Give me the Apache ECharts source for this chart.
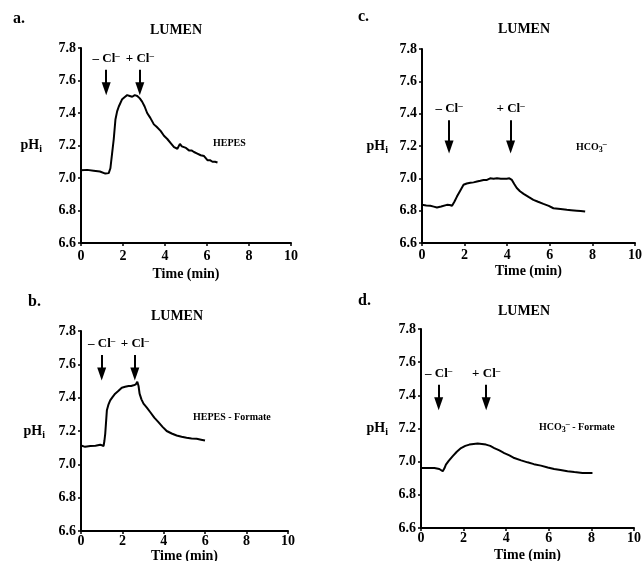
<!DOCTYPE html>
<html>
<head>
    <meta charset="utf-8" />
    <title>LUMEN pHi</title>
    <script type="text/javascript" src="https://cdn.jsdelivr.net/npm/echarts@6/dist/echarts.min.js"></script>
    <style>
        html, body { margin: 0; padding: 0; background: #fff; }
    </style>
</head>
<body>
    <div id="main" style="width: 642px;height: 561px;"></div>
    <script type="text/javascript">
        // a. HEPES
        var timeA = [0, 0.3, 0.6, 0.9, 1.16, 1.32, 1.4, 1.48, 1.56, 1.64, 1.72, 1.8, 1.96, 2.1, 2.2, 2.32, 2.44, 2.56, 2.68, 2.8, 2.91, 3.03, 3.15, 3.3, 3.47, 3.6, 3.79, 3.95, 4.11, 4.27, 4.43, 4.59, 4.65, 4.71, 4.8, 4.87, 5.0, 5.14, 5.26, 5.38, 5.54, 5.7, 5.86, 6.02, 6.14, 6.26, 6.38, 6.5];
        var phA = [7.047, 7.05, 7.045, 7.04, 7.027, 7.03, 7.06, 7.15, 7.24, 7.36, 7.41, 7.44, 7.485, 7.5, 7.51, 7.505, 7.5, 7.51, 7.505, 7.49, 7.47, 7.44, 7.4, 7.37, 7.33, 7.315, 7.29, 7.26, 7.24, 7.215, 7.19, 7.18, 7.185, 7.21, 7.195, 7.19, 7.185, 7.17, 7.17, 7.16, 7.15, 7.14, 7.135, 7.11, 7.11, 7.1, 7.1, 7.095];
        // b. HEPES - Formate
        var timeB = [0, 0.2, 0.45, 0.7, 0.93, 1.09, 1.13, 1.17, 1.25, 1.33, 1.41, 1.53, 1.65, 1.8, 1.97, 2.13, 2.3, 2.42, 2.54, 2.65, 2.72, 2.78, 2.83, 2.92, 3.02, 3.18, 3.34, 3.54, 3.74, 3.94, 4.14, 4.38, 4.62, 4.86, 5.1, 5.34, 5.59, 5.8, 5.99];
        var phB = [7.113, 7.105, 7.11, 7.112, 7.118, 7.11, 7.14, 7.183, 7.324, 7.36, 7.384, 7.405, 7.424, 7.44, 7.46, 7.465, 7.47, 7.47, 7.474, 7.48, 7.495, 7.47, 7.424, 7.39, 7.364, 7.34, 7.314, 7.28, 7.253, 7.225, 7.2, 7.185, 7.173, 7.165, 7.159, 7.155, 7.153, 7.148, 7.143];
        // c. HCO3-
        var timeC = [0, 0.2, 0.39, 0.55, 0.7, 0.9, 1.17, 1.3, 1.41, 1.52, 1.64, 1.8, 1.95, 2.1, 2.27, 2.42, 2.58, 2.74, 2.89, 3.05, 3.2, 3.36, 3.52, 3.7, 3.85, 3.98, 4.1, 4.22, 4.33, 4.45, 4.6, 4.77, 5.0, 5.23, 5.45, 5.7, 5.95, 6.17, 6.5, 6.8, 7.0, 7.27, 7.45, 7.66];
        var phC = [6.836, 6.832, 6.83, 6.825, 6.82, 6.826, 6.836, 6.835, 6.83, 6.855, 6.887, 6.925, 6.96, 6.968, 6.973, 6.975, 6.98, 6.985, 6.99, 6.99, 7.0, 6.998, 7.0, 6.997, 6.998, 6.998, 7.0, 6.99, 6.965, 6.94, 6.92, 6.904, 6.885, 6.867, 6.855, 6.842, 6.83, 6.815, 6.81, 6.805, 6.803, 6.8, 6.798, 6.795];
        // d. HCO3- - Formate
        var timeD = [0, 0.3, 0.63, 0.86, 0.95, 1.02, 1.1, 1.17, 1.3, 1.48, 1.68, 1.88, 2.08, 2.27, 2.47, 2.66, 2.86, 3.05, 3.25, 3.44, 3.68, 3.91, 4.15, 4.38, 4.7, 5.0, 5.3, 5.63, 5.95, 6.25, 6.55, 6.88, 7.2, 7.58, 7.8, 8.05];
        var phD = [6.962, 6.962, 6.962, 6.956, 6.948, 6.942, 6.96, 6.982, 7.005, 7.032, 7.06, 7.082, 7.095, 7.103, 7.107, 7.109, 7.107, 7.103, 7.095, 7.082, 7.068, 7.052, 7.038, 7.022, 7.008, 6.996, 6.985, 6.976, 6.965, 6.956, 6.95, 6.942, 6.937, 6.932, 6.932, 6.932];

        // times of Cl- removal / re-addition (min)
        var clA = [1.2, 2.8];
        var clB = [1.0, 2.6];
        var clC = [1.27, 4.16];
        var clD = [0.83, 3.06];

        var xTicks = [0, 2, 4, 6, 8, 10];
        var yTicks = [6.6, 6.8, 7.0, 7.2, 7.4, 7.6, 7.8];

        var serif = '"Liberation Serif", "DejaVu Serif", serif';

        function pairs(t, v) {
            return t.map(function (x, i) { return [x, v[i]]; });
        }

        // panel layout: grid box, arrow span (top, end) in pH, name gaps
        var panels = [
            { t: timeA, v: phA, cl: clA, grid: { left: 81, top: 48, width: 210, height: 195 }, arrow: [7.666, 7.55], lblMargin: 6, xGap: 24, yGap: 39 },
            { t: timeC, v: phC, cl: clC, grid: { left: 422, top: 49, width: 213, height: 194 }, arrow: [7.36, 7.194], lblMargin: 5, xGap: 21, yGap: 34 },
            { t: timeB, v: phB, cl: clB, grid: { left: 81, top: 331, width: 207, height: 200 }, arrow: [7.656, 7.542], lblMargin: 3, xGap: 17, yGap: 36 },
            { t: timeD, v: phD, cl: clD, grid: { left: 421, top: 329, width: 213, height: 199 }, arrow: [7.464, 7.349], lblMargin: 3, xGap: 20, yGap: 33 }
        ];

        var grids = [], xAxes = [], yAxes = [], series = [];
        panels.forEach(function (p, i) {
            grids.push(Object.assign({ containLabel: false, outerBoundsMode: 'none' }, p.grid));
            xAxes.push({
                gridIndex: i, type: 'value', min: xTicks[0], max: xTicks[xTicks.length - 1], interval: 2,
                axisLine: { show: true, onZero: false, lineStyle: { color: '#000', width: 2 } },
                axisTick: { show: true, length: 3, lineStyle: { color: '#000', width: 1.5 } },
                axisLabel: { color: '#000', fontFamily: serif, fontWeight: 'bold', fontSize: 14, margin: p.lblMargin },
                splitLine: { show: false },
                name: 'Time (min)', nameLocation: 'middle', nameGap: p.xGap,
                nameTextStyle: { color: '#000', fontFamily: serif, fontWeight: 'bold', fontSize: 14 }
            });
            yAxes.push({
                gridIndex: i, type: 'value', min: yTicks[0], max: yTicks[yTicks.length - 1], interval: 0.2,
                axisLine: { show: true, onZero: false, lineStyle: { color: '#000', width: 2 } },
                axisTick: { show: true, length: 3, lineStyle: { color: '#000', width: 1.5 } },
                axisLabel: {
                    color: '#000', fontFamily: serif, fontWeight: 'bold', fontSize: 14, margin: 5,
                    formatter: function (v) { return v.toFixed(1); }
                },
                splitLine: { show: false },
                name: 'pH{s|i}', nameLocation: 'middle', nameRotate: 0, nameGap: p.yGap,
                nameTextStyle: {
                    color: '#000', fontFamily: serif, fontWeight: 'bold', fontSize: 14, lineHeight: 18,
                    rich: { s: { fontFamily: serif, fontWeight: 'bold', fontSize: 10, lineHeight: 10, verticalAlign: 'bottom', color: '#000' } }
                }
            });
            series.push({
                type: 'line', xAxisIndex: i, yAxisIndex: i,
                data: pairs(p.t, p.v),
                showSymbol: false, smooth: false,
                lineStyle: { color: '#000', width: 2 },
                markLine: {
                    silent: true, animation: false,
                    symbol: ['none', 'triangle'], symbolSize: [9, 13],
                    lineStyle: { color: '#000', width: 2, type: 'solid' },
                    label: {
                        show: true, position: 'start', distance: 3,
                        formatter: '{n|{b}}{s|–}',
                        rich: {
                            n: { fontFamily: serif, fontWeight: 'bold', fontSize: 13, lineHeight: 16, color: '#000' },
                            s: { fontFamily: serif, fontWeight: 'bold', fontSize: 9, lineHeight: 9, verticalAlign: 'top', color: '#000' }
                        }
                    },
                    data: [
                        [{ name: '– Cl', coord: [p.cl[0], p.arrow[0]] }, { coord: [p.cl[0], p.arrow[1]] }],
                        [{ name: '+ Cl', coord: [p.cl[1], p.arrow[0]] }, { coord: [p.cl[1], p.arrow[1]] }]
                    ]
                }
            });
        });

        function txt(x, y, text, size, align, rich) {
            return {
                type: 'text', x: x, y: y, silent: true,
                style: {
                    text: text, fill: '#000', fontFamily: serif, fontWeight: 'bold', fontSize: size,
                    align: align || 'left', verticalAlign: 'middle', rich: rich
                }
            };
        }
        var hco = {
            n: { fontFamily: serif, fontWeight: 'bold', fontSize: 10, lineHeight: 14, fill: '#000' },
            sub: { fontFamily: serif, fontWeight: 'bold', fontSize: 8, lineHeight: 8, verticalAlign: 'bottom', fill: '#000' },
            sup: { fontFamily: serif, fontWeight: 'bold', fontSize: 8, lineHeight: 8, verticalAlign: 'top', fill: '#000' }
        };

        var graphics = [
            txt(13, 19, 'a.', 16), txt(358, 17, 'c.', 16), txt(28, 302, 'b.', 16), txt(358, 301, 'd.', 16),
            txt(176, 30, 'LUMEN', 14, 'center'), txt(524, 29, 'LUMEN', 14, 'center'),
            txt(177, 316, 'LUMEN', 14, 'center'), txt(524, 311, 'LUMEN', 14, 'center'),
            txt(213, 143, 'HEPES', 10),
            txt(193, 417, 'HEPES - Formate', 10),
            txt(576, 147, '{n|HCO}{sub|3}{sup|–}', 10, 'left', hco),
            txt(539, 427, '{n|HCO}{sub|3}{sup|–}{n| - Formate}', 10, 'left', hco)
        ];

        var myChart = echarts.init(document.getElementById('main'));
        myChart.setOption({
            animation: false,
            backgroundColor: '#fff',
            grid: grids,
            xAxis: xAxes,
            yAxis: yAxes,
            series: series,
            graphic: graphics
        });
    </script>
</body>
</html>
